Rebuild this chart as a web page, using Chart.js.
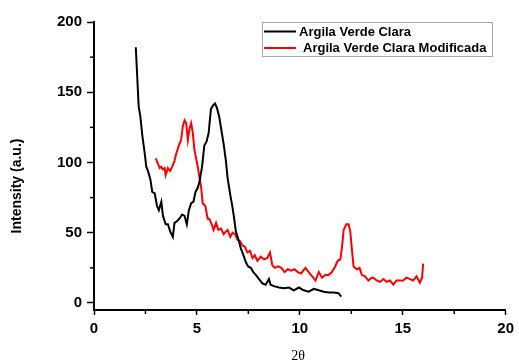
<!DOCTYPE html>
<html>
<head>
<meta charset="utf-8">
<script src="https://cdn.jsdelivr.net/npm/chart.js@4"></script>
<style>
  html, body { margin: 0; padding: 0; background: #fff; }
  #wrap { width: 519px; height: 363px; }
</style>
</head>
<body>
<div id="wrap"><canvas id="xrdChart"></canvas></div>
<script>
// Argila Verde Clara (black)
const blackX = [2.03, 2.09, 2.17, 2.25, 2.35, 2.46, 2.54, 2.62, 2.74, 2.83, 2.95, 3.06, 3.15, 3.27, 3.35, 3.48, 3.59, 3.70, 3.83, 3.91,
  4.02, 4.15, 4.28, 4.40, 4.51, 4.61, 4.72, 4.83, 4.93, 5.04, 5.12, 5.25, 5.36, 5.47, 5.57, 5.68, 5.80, 5.88, 5.97, 6.09,
  6.20, 6.30, 6.41, 6.49, 6.62, 6.73, 6.81, 6.89, 7.00, 7.13, 7.26, 7.38, 7.49, 7.62, 7.74, 7.86, 8.02, 8.18, 8.34, 8.50,
  8.58, 8.74, 8.99, 9.23, 9.47, 9.71, 9.95, 10.19, 10.43, 10.68, 10.92, 11.16, 11.40, 11.64, 11.88, 12.01];
const blackY = [182, 164, 140, 133, 119, 107, 97, 94, 88, 79, 78, 69, 66, 72, 62, 56, 56, 51, 47, 57,
  58, 60, 63, 62, 56, 66, 71, 72, 79, 82, 86, 97, 112, 115, 121, 138, 141, 142, 139, 132,
  122, 113, 101, 89, 77, 68, 60, 51, 46, 39, 34, 29, 26, 25, 22, 20, 17, 14, 13, 17,
  13, 12, 11, 10.5, 11, 9, 11, 9, 8, 10, 9, 8, 7.5, 7.5, 7, 4.5];

// Argila Verde Clara Modificada (red)
const redX = [3.00, 3.11, 3.19, 3.27, 3.35, 3.43, 3.48, 3.59, 3.70, 3.80, 3.91, 3.99, 4.12, 4.23, 4.32, 4.40, 4.48, 4.56, 4.64, 4.72,
  4.80, 4.88, 4.96, 5.04, 5.12, 5.20, 5.28, 5.41, 5.52, 5.60, 5.72, 5.81, 5.93, 6.04, 6.17, 6.30, 6.41, 6.49, 6.62, 6.73,
  6.85, 6.97, 7.10, 7.21, 7.33, 7.45, 7.58, 7.70, 7.81, 7.94, 8.10, 8.26, 8.42, 8.55, 8.66, 8.78, 8.94, 9.10, 9.26, 9.42,
  9.58, 9.74, 9.90, 10.06, 10.27, 10.43, 10.60, 10.76, 10.92, 11.08, 11.24, 11.40, 11.56, 11.72, 11.84, 11.97, 12.05, 12.13, 12.26, 12.37,
  12.45, 12.53, 12.61, 12.77, 12.90, 13.01, 13.17, 13.33, 13.49, 13.57, 13.73, 13.90, 14.06, 14.22, 14.38, 14.54, 14.70, 14.86, 15.02, 15.18,
  15.35, 15.51, 15.67, 15.83, 15.94, 15.99];
const redY = [103, 99, 96, 97, 95, 96, 91, 96, 94, 97, 101, 106, 112, 116, 126, 130, 128, 116, 124, 128,
  121, 109, 103, 97, 90, 83, 71, 69, 60, 60, 56, 52, 57, 52, 53, 49, 51, 52, 47, 50,
  49, 45, 44, 41, 40, 36, 37, 32, 34, 30, 33, 31, 32, 36, 27, 25, 26, 25, 22, 24,
  23, 24, 22, 21, 25, 22, 19, 16, 22, 18, 20, 20, 22, 26, 30, 31, 40, 52, 56, 56,
  51, 38, 26, 24, 25, 20, 19, 16, 18, 18, 16, 15, 17, 15, 16, 13, 16, 16, 16, 18,
  17, 16, 19, 14.5, 18, 28];

const seriesLabels = ['Argila Verde Clara', 'Argila Verde Clara Modificada'];
const xMajorTicks = [0, 5, 10, 15, 20];
const xMinorTicks = [2.5, 7.5, 12.5, 17.5];
const yMajorTicks = [0, 50, 100, 150, 200];
const yMinorTicks = [25, 75, 125, 175];

const toPoints = (xs, ys) => xs.map((x, i) => ({ x: x, y: ys[i] }));

// minor ticks, axis titles, and the boxed legend
const extrasPlugin = {
  id: 'extras',
  afterDraw(chart) {
    const ctx = chart.ctx;
    const xs = chart.scales.x, ys = chart.scales.y;
    ctx.save();
    ctx.strokeStyle = '#000';
    ctx.lineWidth = 1.5;
    xMinorTicks.forEach(v => {
      const px = xs.getPixelForValue(v);
      ctx.beginPath(); ctx.moveTo(px, xs.top); ctx.lineTo(px, xs.top + 4); ctx.stroke();
    });
    yMinorTicks.forEach(v => {
      const py = ys.getPixelForValue(v);
      ctx.beginPath(); ctx.moveTo(ys.right, py); ctx.lineTo(ys.right - 4, py); ctx.stroke();
    });

    // x axis title
    ctx.fillStyle = '#000';
    ctx.font = '14px "Liberation Serif", "Times New Roman", serif';
    ctx.textAlign = 'center';
    ctx.textBaseline = 'middle';
    ctx.fillText('2θ', 298, 356);

    // y axis title
    ctx.font = 'bold 14px "Liberation Sans", Arial, sans-serif';
    ctx.translate(17, 186);
    ctx.rotate(-Math.PI / 2);
    ctx.fillText('Intensity (a.u.)', 0, 0);
    ctx.restore();

    // legend
    ctx.save();
    ctx.strokeStyle = '#a8a8a8';
    ctx.lineWidth = 1;
    ctx.strokeRect(262.5, 22.5, 230, 34);
    ctx.font = 'bold 13px "Liberation Sans", Arial, sans-serif';
    ctx.textBaseline = 'middle';
    ctx.textAlign = 'left';
    const rows = [{ y: 31.5, tx: 299 }, { y: 48, tx: 303 }];
    chart.data.datasets.forEach((ds, i) => {
      ctx.strokeStyle = ds.borderColor;
      ctx.lineWidth = 2;
      ctx.beginPath(); ctx.moveTo(264, rows[i].y); ctx.lineTo(296, rows[i].y); ctx.stroke();
      ctx.fillStyle = '#000';
      ctx.fillText(ds.label, rows[i].tx, rows[i].y + 0.5);
    });
    ctx.restore();
  }
};

new Chart(document.getElementById('xrdChart'), {
  type: 'line',
  data: {
    datasets: [{
      label: seriesLabels[0],
      data: toPoints(blackX, blackY),
      borderColor: '#000000',
      borderWidth: 2,
      pointRadius: 0,
      tension: 0
    }, {
      label: seriesLabels[1],
      data: toPoints(redX, redY),
      borderColor: '#ff0000',
      borderWidth: 2,
      pointRadius: 0,
      tension: 0
    }]
  },
  options: {
    responsive: true,
    maintainAspectRatio: false,
    animation: false,
    layout: { padding: { left: 0, right: 11, top: 22, bottom: 0 } },
    plugins: { legend: { display: false }, tooltip: { enabled: false } },
    scales: {
      x: {
        type: 'linear',
        min: 0, max: 20,
        afterBuildTicks: s => { s.ticks = xMajorTicks.map(v => ({ value: v })); },
        afterFit: s => { s.height = 53; },
        border: { display: true, color: '#000', width: 2 },
        grid: { drawOnChartArea: false, drawTicks: true, tickLength: 5, tickColor: '#000', tickWidth: 1.5 },
        ticks: {
          color: '#000', padding: 5, maxRotation: 0,
          font: { family: '"Liberation Sans", Arial, sans-serif', size: 15, weight: 'bold' }
        }
      },
      y: {
        min: -5, max: 200,
        afterBuildTicks: s => { s.ticks = yMajorTicks.map(v => ({ value: v })); },
        afterFit: s => { s.width = 94; },
        border: { display: true, color: '#000', width: 2 },
        grid: { drawOnChartArea: false, drawTicks: true, tickLength: 7, tickColor: '#000', tickWidth: 1.5 },
        ticks: {
          color: '#000', padding: 5,
          font: { family: '"Liberation Sans", Arial, sans-serif', size: 15, weight: 'bold' }
        }
      }
    }
  },
  plugins: [extrasPlugin]
});
</script>
</body>
</html>
